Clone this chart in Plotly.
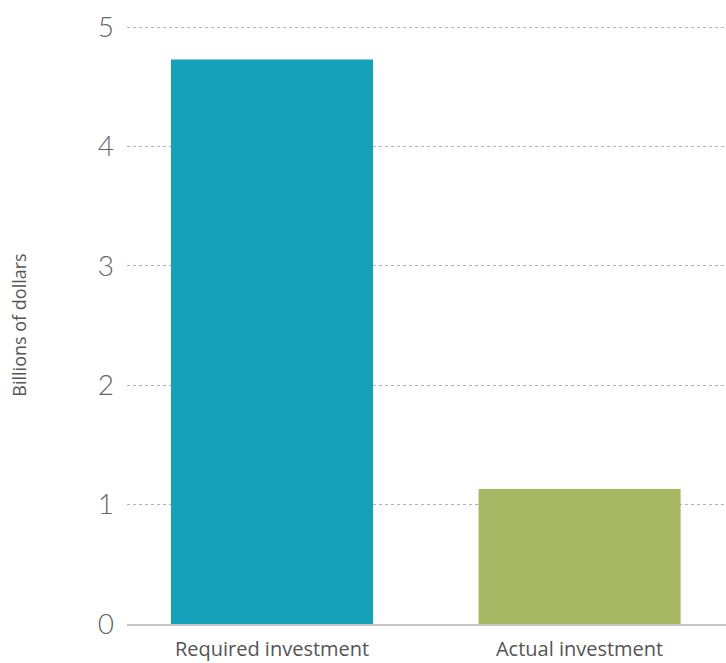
import plotly.graph_objects as go

categories = ["Required investment", "Actual investment"]
values = [4.73, 1.13]
colors = ["#16A1BA", "#A7B865"]
y_ticks = [0, 1, 2, 3, 4, 5]

fig = go.Figure()
fig.add_trace(go.Bar(
    x=categories, y=values, marker=dict(color=colors, line=dict(width=0)),
    width=0.657, showlegend=False, hoverinfo="skip",
))

fig.update_layout(
    width=726, height=663,
    margin=dict(l=127, r=0, t=26, b=39, autoexpand=False),
    paper_bgcolor="white", plot_bgcolor="white",
    font=dict(family="Open Sans, sans-serif", color="#555555"),
    xaxis=dict(
        range=[-0.4715, 1.476], showgrid=False, showline=True,
        linecolor="#c8c8c8", linewidth=1.5, ticks="",
        tickfont=dict(size=20, color="#555555"), ticklabelstandoff=6,
    ),
    yaxis=dict(
        range=[0, 5.01], tickvals=y_ticks, ticktext=[str(v) for v in y_ticks],
        showgrid=True, gridcolor="#b4b4b4", griddash="dot", gridwidth=1,
        zeroline=False, showline=False, ticks="",
        tickfont=dict(family="Lato, sans-serif", size=28, color="#666666", weight=300),
        ticklabelstandoff=12,
        title=dict(text="Billions of dollars", font=dict(size=18, color="#555555"), standoff=66),
    ),
)

fig.write_html("out.html", config={"displayModeBar": False},
               post_script="document.body.style.margin='0';")
